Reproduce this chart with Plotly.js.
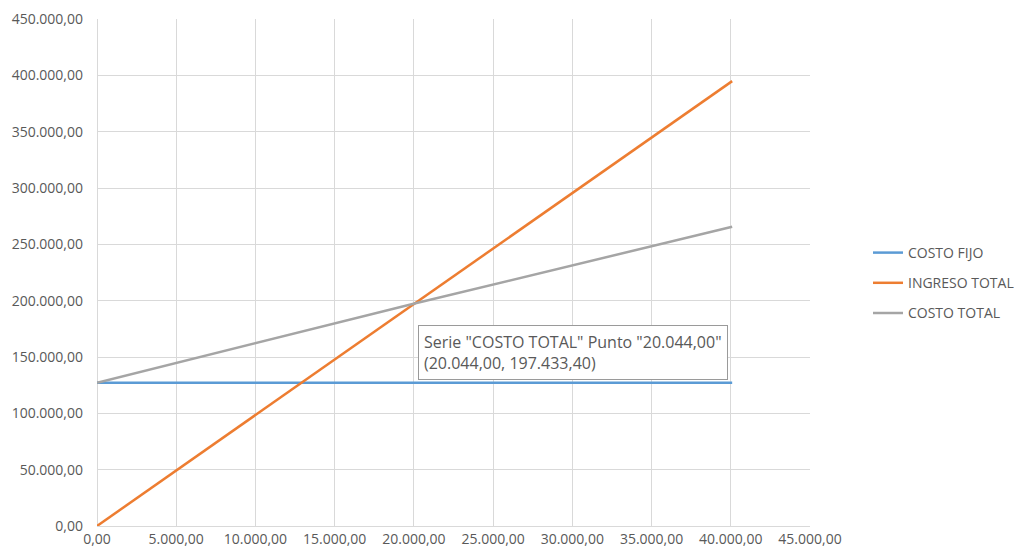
<!DOCTYPE html>
<html>
<head>
<meta charset="utf-8">
<script src="https://cdn.plot.ly/plotly-3.0.1.min.js"></script>
<style>html,body{margin:0;padding:0;background:#fff;}#chart{width:1014px;height:556px;}</style>
</head>
<body>
<div id="chart"></div>
<script>
// Data
const unidades = [0, 20044, 40088];
const costoFijo = [127200, 127200, 127200];
const ingresoTotal = [0, 197433.4, 394866.8];
const costoTotal = [127200, 197433.4, 265600];
const seriesNames = ["COSTO FIJO", "INGRESO TOTAL", "COSTO TOTAL"];
const seriesColors = ["#5b9bd5", "#ed7d31", "#a5a5a5"];
const tooltipText = 'Serie "COSTO TOTAL" Punto "20.044,00"<br>(20.044,00, 197.433,40)';

const ys = [costoFijo, ingresoTotal, costoTotal];
const traces = ys.map((y, i) => ({
  type: 'scatter', mode: 'lines', x: unidades, y: y,
  name: seriesNames[i], legendgroup: 'g' + i,
  line: {color: seriesColors[i], width: 2.5}
}));

const fontFam = '"Open Sans", "Noto Sans", sans-serif';
const layout = {
  width: 1014, height: 556,
  margin: {l: 97, r: 204, t: 19, b: 30},
  paper_bgcolor: '#fff', plot_bgcolor: '#fff',
  separators: ',.',
  font: {family: fontFam, size: 14, color: '#595959'},
  showlegend: true,
  legend: {xref: 'container', yref: 'container', x: 0.856, xanchor: 'left',
           y: 1 - 283 / 556, yanchor: 'middle',
           font: {size: 14, color: '#595959'}, tracegroupgap: 9, itemwidth: 30},
  xaxis: {range: [0, 45000], dtick: 5000, tick0: 0, tickformat: ',.2f',
          showgrid: true, gridcolor: '#d9d9d9', zeroline: true, zerolinecolor: '#d9d9d9',
          showline: false, ticks: '', ticklabelstandoff: 3, automargin: false, fixedrange: true},
  yaxis: {range: [0, 450000], dtick: 50000, tick0: 0, tickformat: ',.2f',
          showgrid: true, gridcolor: '#d9d9d9', zeroline: true, zerolinecolor: '#d9d9d9',
          showline: false, ticks: '', ticklabelstandoff: 13, automargin: false, fixedrange: true},
  annotations: [{
    x: 20044, y: 178500, xref: 'x', yref: 'y', xanchor: 'left', yanchor: 'top',
    xshift: 3, showarrow: false, align: 'left', text: tooltipText,
    font: {size: 16, color: '#595959', family: fontFam},
    bgcolor: '#ffffff', bordercolor: '#9a9a9a', borderwidth: 1, borderpad: 5
  }]
};
Plotly.newPlot('chart', traces, layout, {displayModeBar: false, staticPlot: true});
</script>
</body>
</html>
